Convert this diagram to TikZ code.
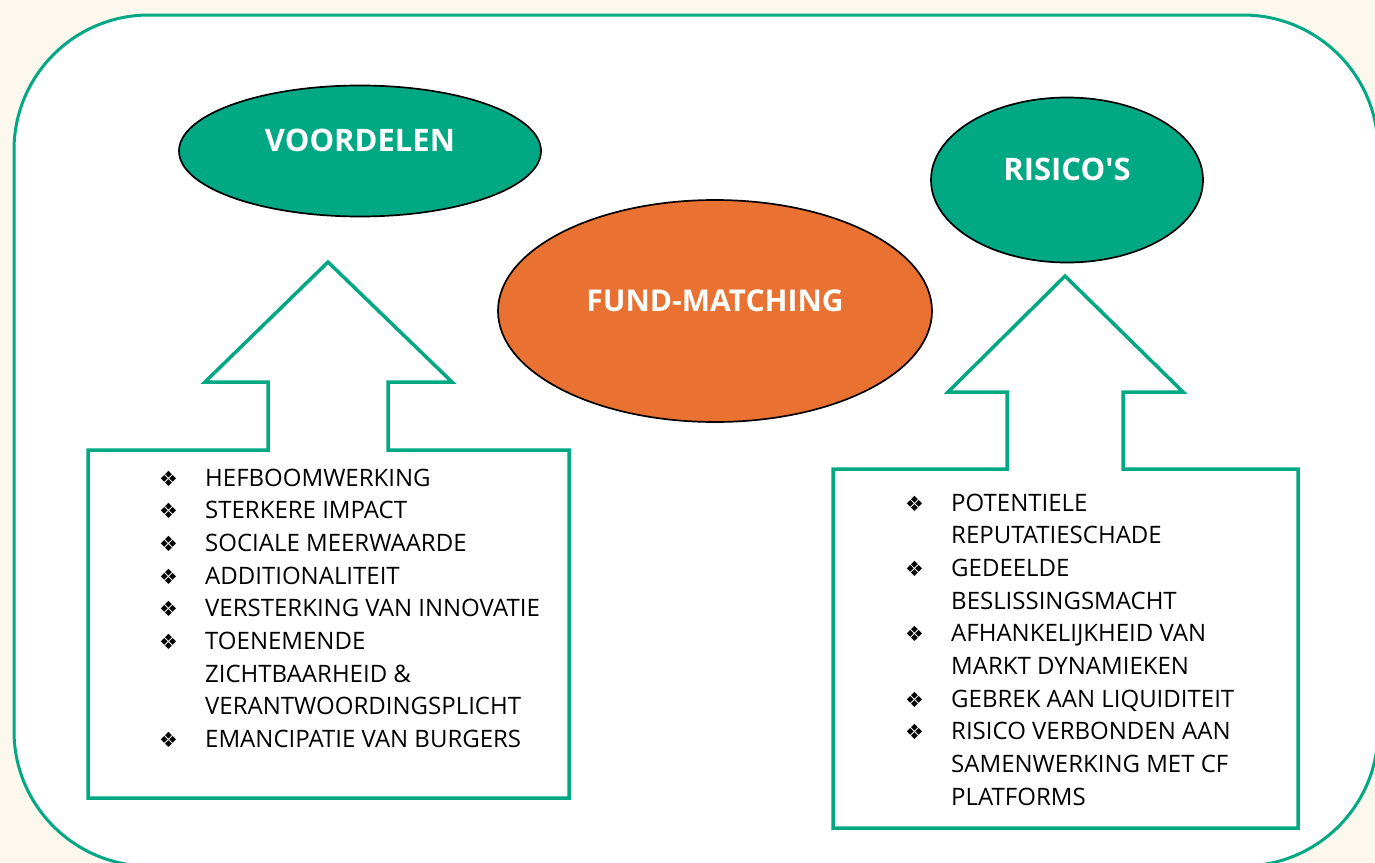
\documentclass[tikz,border=0pt]{standalone}
\usepackage{fontspec}
\setmainfont{Open Sans}
\newfontfamily\symbfont{DejaVu Sans}
\usepackage{array}
\usetikzlibrary{shapes.geometric}

\definecolor{fmgreen}{RGB}{0,168,132}
\definecolor{fmorange}{RGB}{233,114,51}
\definecolor{fmcream}{RGB}{252,248,238}
\newcommand{\itm}{{\symbfont\fontsize{21}{21}\selectfont ❖}}

\begin{document}
\begin{tikzpicture}[x=1pt,y=-1pt,
    blob/.style={ellipse,draw=black,line width=1.7pt,inner sep=0pt,text=white,
        font=\bfseries\fontsize{31}{31}\selectfont,text height=22pt,text depth=22pt},
    boxline/.style={draw=fmgreen,line width=3.5pt,line join=miter},
    itemlist/.style={anchor=north west,inner sep=0pt,font=\fontsize{24}{32.7}\selectfont}]
            \useasboundingbox (0,0) rectangle (1375,862);
            \clip (0,0) rectangle (1375,862);
            \fill[fmcream] (0,0) rectangle (1375,862);
            \draw[fmgreen,line width=3pt,fill=white,rounded corners=135pt] (14,15) rectangle (1378,866);

            \node[blob,fill=fmgreen,minimum width=362pt,minimum height=131pt] (voordelen) at (360,151) {VOORDELEN};
            \node[blob,fill=fmgreen,minimum width=272pt,minimum height=165pt] (risicos) at (1067,180) {RISICO\textquotesingle S};
            \node[blob,fill=fmorange,minimum width=434pt,minimum height=222pt,
                font=\bfseries\fontsize{30}{30}\selectfont] (fund) at (715,311) {FUND-MATCHING};

            \draw[boxline] (88,450) -- (268,450) -- (268,382) -- (205,382) -- (328,262) -- (452,382)
                -- (388,382) -- (388,450) -- (569,450) -- (569,798) -- (88,798) -- cycle;
            \draw[boxline] (833,469) -- (1007,469) -- (1007,392) -- (948,392) -- (1065,276) -- (1183,392)
                -- (1123,392) -- (1123,469) -- (1298,469) -- (1298,828) -- (833,828) -- cycle;

            \node[itemlist] (voorlist) at (159,463) {\begin{tabular}{@{}p{46pt}@{}l@{}}
                \itm & HEFBOOMWERKING\\
                \itm & STERKERE IMPACT\\
                \itm & SOCIALE MEERWAARDE\\
                \itm & ADDITIONALITEIT\\
                \itm & VERSTERKING VAN INNOVATIE\\
                \itm & TOENEMENDE\\
                     & ZICHTBAARHEID \&\\
                     & VERANTWOORDINGSPLICHT\\
                \itm & EMANCIPATIE VAN BURGERS
            \end{tabular}};
            \node[itemlist] (risicolist) at (905,488) {\begin{tabular}{@{}p{46pt}@{}l@{}}
                \itm & POTENTIELE\\
                     & REPUTATIESCHADE\\
                \itm & GEDEELDE\\
                     & BESLISSINGSMACHT\\
                \itm & AFHANKELIJKHEID VAN\\
                     & MARKT DYNAMIEKEN\\
                \itm & GEBREK AAN LIQUIDITEIT\\
                \itm & RISICO VERBONDEN AAN\\
                     & SAMENWERKING MET CF\\
                     & PLATFORMS
            \end{tabular}};
        \end{tikzpicture}
\end{document}
